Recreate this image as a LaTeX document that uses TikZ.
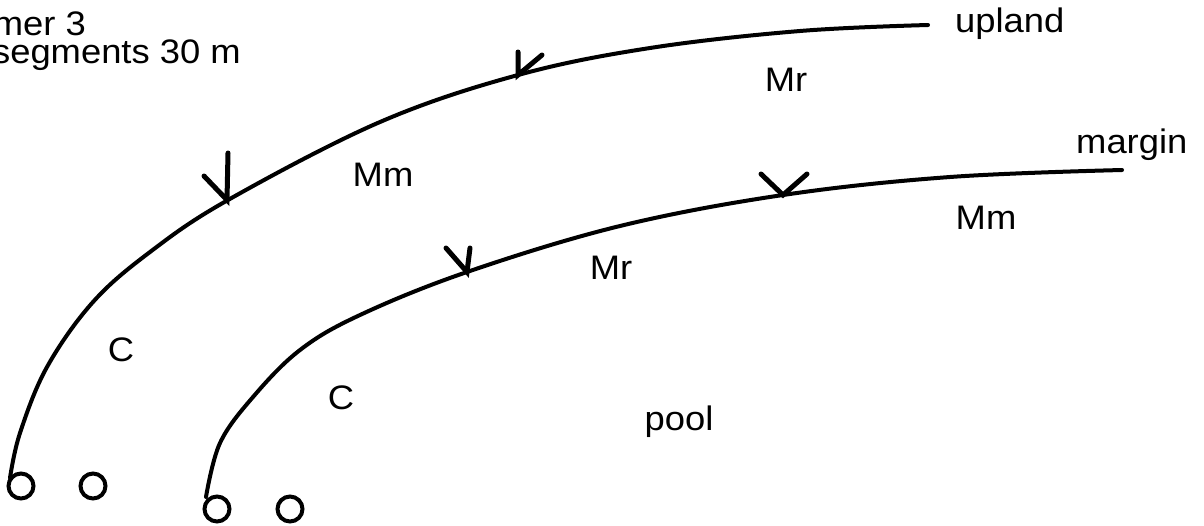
\documentclass[tikz,border=0pt]{standalone}
\usepackage{fontspec}
\setmainfont{Liberation Sans}[FakeStretch=1.07]
\begin{document}
\begin{tikzpicture}[x=1pt,y=-1pt,
  curve/.style={line width=4pt, line cap=round, line join=round},
  tick/.style={line width=5pt, line cap=round},
  ring/.style={line width=4pt},
  lbl/.style={font=\fontsize{34}{38}\selectfont, inner sep=0pt},
]
\useasboundingbox (0,0) rectangle (1204,525);
\clip (0,0) rectangle (1204,525);
% header text (cut at left edge)
\node[lbl, anchor=base east] (t1) at (86,35) {mer 3};
\node[lbl, anchor=base east] (t2) at (241,63) {segments 30 m};
% outer (upland) curve
\draw[curve] plot[smooth, tension=0.6] coordinates {(928,25) (800,31) (650,48) (518,75) (380,122) (228,200) (150,252) (93,302) (47,367) (20,433) (10,478)};
% inner (margin) curve
\draw[curve] plot[smooth, tension=0.6] coordinates {(1122,170) (950,177) (783,195) (620,226) (467,272) (360,315) (300,350) (253,397) (220,443) (206,497)};
% ticks on outer curve
\coordinate (v1) at (518,75);
\draw[tick] (518,52) -- (v1) -- (542,55);
\coordinate (v2) at (227,200);
\draw[tick] (228,153) -- (v2) -- (204,176);
% ticks on inner curve
\coordinate (v3) at (783,195);
\draw[tick] (761,174) -- (v3) -- (807,174);
\coordinate (v4) at (467,272);
\draw[tick] (470,248) -- (v4) -- (446,248);
% circles
\draw[ring] (21,486) circle (12.5);
\draw[ring] (93,486) circle (12.5);
\draw[ring] (217,509) circle (12.5);
\draw[ring] (290,509) circle (12.5);
% labels
\node[lbl, anchor=base west] (up) at (955,32) {upland};
\node[lbl, anchor=base west] (mg) at (1076,153) {margin};
\node[lbl] (mr1) at (786,80) {Mr};
\node[lbl] (mm1) at (383,175) {Mm};
\node[lbl] (mm2) at (986,218) {Mm};
\node[lbl] (mr2) at (611,268) {Mr};
\node[lbl] (c1) at (121,350) {C};
\node[lbl] (c2) at (341,398) {C};
\node[lbl, anchor=base] (pl) at (679,430) {pool};
\end{tikzpicture}
\end{document}
